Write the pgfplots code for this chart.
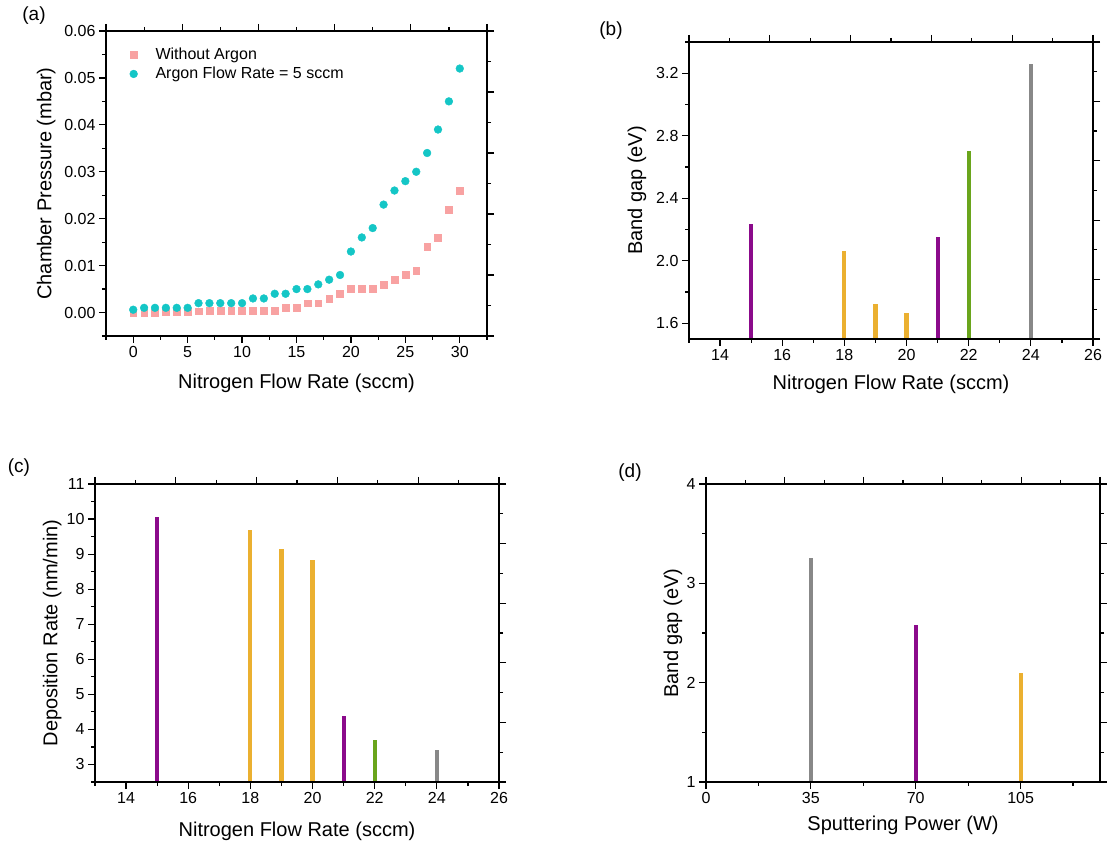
\documentclass[border=0pt]{standalone}
\usepackage{fontspec}
\setmainfont{Liberation Sans}
\usepackage{pgfplots}
\pgfplotsset{compat=1.18}
\definecolor{csalmon}{HTML}{F8A2A2}
\definecolor{cteal}{HTML}{14C6C6}
\definecolor{cpurple}{HTML}{8B0A8B}
\definecolor{corange}{HTML}{EBB030}
\definecolor{cgreen}{HTML}{6AA51C}
\definecolor{cgray}{HTML}{888888}
\pgfplotsset{
  base/.style={scale only axis, anchor=south west,
    axis line style={line width=1.2pt},
    every tick/.style={line width=1.2pt, black},
    tick align=outside, major tick length=7pt, minor tick length=4pt,
    tick label style={font=\fontsize{16}{18}\selectfont},
    label style={font=\fontsize{20}{24}\selectfont},
    /pgf/number format/assume math mode=true,
    tick pos=left},
  mirror/.style={scale only axis, anchor=south west,
    xmin=0,xmax=10,ymin=0,ymax=10,
    xtick={0,2,...,10}, minor xtick={1,3,...,9},
    ytick={0,2,...,10}, minor ytick={1,3,...,9},
    xticklabels={}, yticklabels={},
    axis line style={line width=1.2pt},
    every tick/.style={line width=1.2pt, black},
    tick align=outside, major tick length=7pt, minor tick length=4pt,
    tick pos=right},
  stem/.style={ycomb, line width=4.2pt, line cap=butt, no marks},
}
\begin{document}
\begin{tikzpicture}
\path[use as bounding box] (0,0) rectangle (1107pt,845pt);
% ---------------- (a)
\begin{axis}[base, at={(106pt,509pt)}, width=381pt, height=305pt,
  xmin=-2.5, xmax=32.5, ymin=-0.005, ymax=0.06,
  xtick={0,5,...,30}, minor xtick={-2.5,2.5,7.5,...,32.5},
  ytick={0,0.01,...,0.06}, minor ytick={-0.005,0.005,0.015,...,0.055},
  scaled y ticks=false,
  yticklabel style={/pgf/number format/.cd, fixed, fixed zerofill, precision=2},
  xlabel={Nitrogen Flow Rate (sccm)}, ylabel={Chamber Pressure (mbar)},
  xlabel style={at={(axis description cs:0.5,-0.154)}, anchor=center},
  ylabel style={at={(axis description cs:-0.157,0.5)}, anchor=center, rotate=0},
  legend style={draw=none, fill=none, at={(axis description cs:0.054,0.957)}, anchor=north west,
    font=\fontsize{16}{18}\selectfont, row sep=2pt,
    /tikz/every odd column/.append style={column sep=16pt}},
  legend cell align=left]
\addplot[only marks, mark=square*, mark size=3.4pt, mark options={draw=csalmon, fill=csalmon}] coordinates {
(0,0) (1,0) (2,0) (3,0.0001) (4,0.0001) (5,0.0002) (6,0.0003) (7,0.0004) (8,0.0004) (9,0.0004)
(10,0.0004) (11,0.0004) (12,0.0004) (13,0.0004) (14,0.001) (15,0.001) (16,0.002) (17,0.002) (18,0.003) (19,0.004)
(20,0.005) (21,0.005) (22,0.005) (23,0.006) (24,0.007) (25,0.008) (26,0.009) (27,0.014) (28,0.016) (29,0.022) (30,0.026)};
\addlegendentry{Without Argon}
\addplot[only marks, mark=*, mark size=3.9pt, mark options={draw=cteal, fill=cteal}] coordinates {
(0,0.0006) (1,0.001) (2,0.001) (3,0.001) (4,0.001) (5,0.001) (6,0.002) (7,0.002) (8,0.002) (9,0.002)
(10,0.002) (11,0.003) (12,0.003) (13,0.004) (14,0.004) (15,0.005) (16,0.005) (17,0.006) (18,0.007) (19,0.008)
(20,0.013) (21,0.016) (22,0.018) (23,0.023) (24,0.026) (25,0.028) (26,0.030) (27,0.034) (28,0.039) (29,0.045) (30,0.052)};
\addlegendentry{Argon Flow Rate = 5 sccm}
\end{axis}
\begin{axis}[mirror, at={(106pt,509pt)}, width=381pt, height=305pt]
\end{axis}
% ---------------- (b)
\begin{axis}[base, at={(689pt,506pt)}, width=404pt, height=297pt,
  xmin=13, xmax=26, ymin=1.5, ymax=3.4,
  xtick={14,16,...,26}, minor xtick={13,15,...,25},
  ytick={1.6,2.0,2.4,2.8,3.2}, minor ytick={1.8,2.2,2.6,3.0,3.4},
  yticklabel style={/pgf/number format/.cd, fixed, fixed zerofill, precision=1},
  xlabel={Nitrogen Flow Rate (sccm)}, ylabel={Band gap (eV)},
  xlabel style={at={(axis description cs:0.5,-0.152)}, anchor=center},
  ylabel style={at={(axis description cs:-0.129,0.5)}, anchor=center}]
\addplot[stem, cpurple] coordinates {(15,2.235) (21,2.154)};
\addplot[stem, corange] coordinates {(18,2.065) (19,1.725) (20,1.664)};
\addplot[stem, cgreen] coordinates {(22,2.705)};
\addplot[stem, cgray] coordinates {(24,3.258)};
\end{axis}
\begin{axis}[mirror, at={(689pt,506pt)}, width=404pt, height=297pt]
\end{axis}
% ---------------- (c)
\begin{axis}[base, at={(95pt,63pt)}, width=404pt, height=298pt,
  xmin=13, xmax=26, ymin=2.5, ymax=11,
  xtick={14,16,...,26}, minor xtick={13,15,...,25},
  ytick={3,4,...,11}, minor ytick={2.5,3.5,...,10.5},
  xlabel={Nitrogen Flow Rate (sccm)}, ylabel={Deposition Rate (nm/min)},
  xlabel style={at={(axis description cs:0.5,-0.164)}, anchor=center},
  ylabel style={at={(axis description cs:-0.106,0.5)}, anchor=center}]
\addplot[stem, cpurple] coordinates {(15,10.05) (21,4.37)};
\addplot[stem, corange] coordinates {(18,9.70) (19,9.16) (20,8.83)};
\addplot[stem, cgreen] coordinates {(22,3.71)};
\addplot[stem, cgray] coordinates {(24,3.42)};
\end{axis}
\begin{axis}[mirror, at={(95pt,63pt)}, width=404pt, height=298pt]
\end{axis}
% ---------------- (d)
\begin{axis}[base, at={(706pt,63pt)}, width=394pt, height=298pt,
  xmin=0, xmax=131.5, ymin=1, ymax=4,
  xtick={0,35,70,105}, minor xtick={17.5,52.5,87.5,122.5},
  ytick={1,2,3,4}, minor ytick={1.5,2.5,3.5},
  xlabel={Sputtering Power (W)}, ylabel={Band gap (eV)},
  xlabel style={at={(axis description cs:0.5,-0.144)}, anchor=center},
  ylabel style={at={(axis description cs:-0.084,0.5)}, anchor=center}]
\addplot[stem, cgray] coordinates {(35,3.25)};
\addplot[stem, cpurple] coordinates {(70,2.58)};
\addplot[stem, corange] coordinates {(105,2.10)};
\end{axis}
\begin{axis}[mirror, at={(706pt,63pt)}, width=394pt, height=298pt]
\end{axis}
% panel labels
\node[font=\fontsize{19}{22}\selectfont] at (34pt,829pt) {(a)};
\node[font=\fontsize{19}{22}\selectfont] at (611pt,814.5pt) {(b)};
\node[font=\fontsize{19}{22}\selectfont] at (19pt,377.5pt) {(c)};
\node[font=\fontsize{19}{22}\selectfont] at (630pt,372pt) {(d)};
\end{tikzpicture}
\end{document}
